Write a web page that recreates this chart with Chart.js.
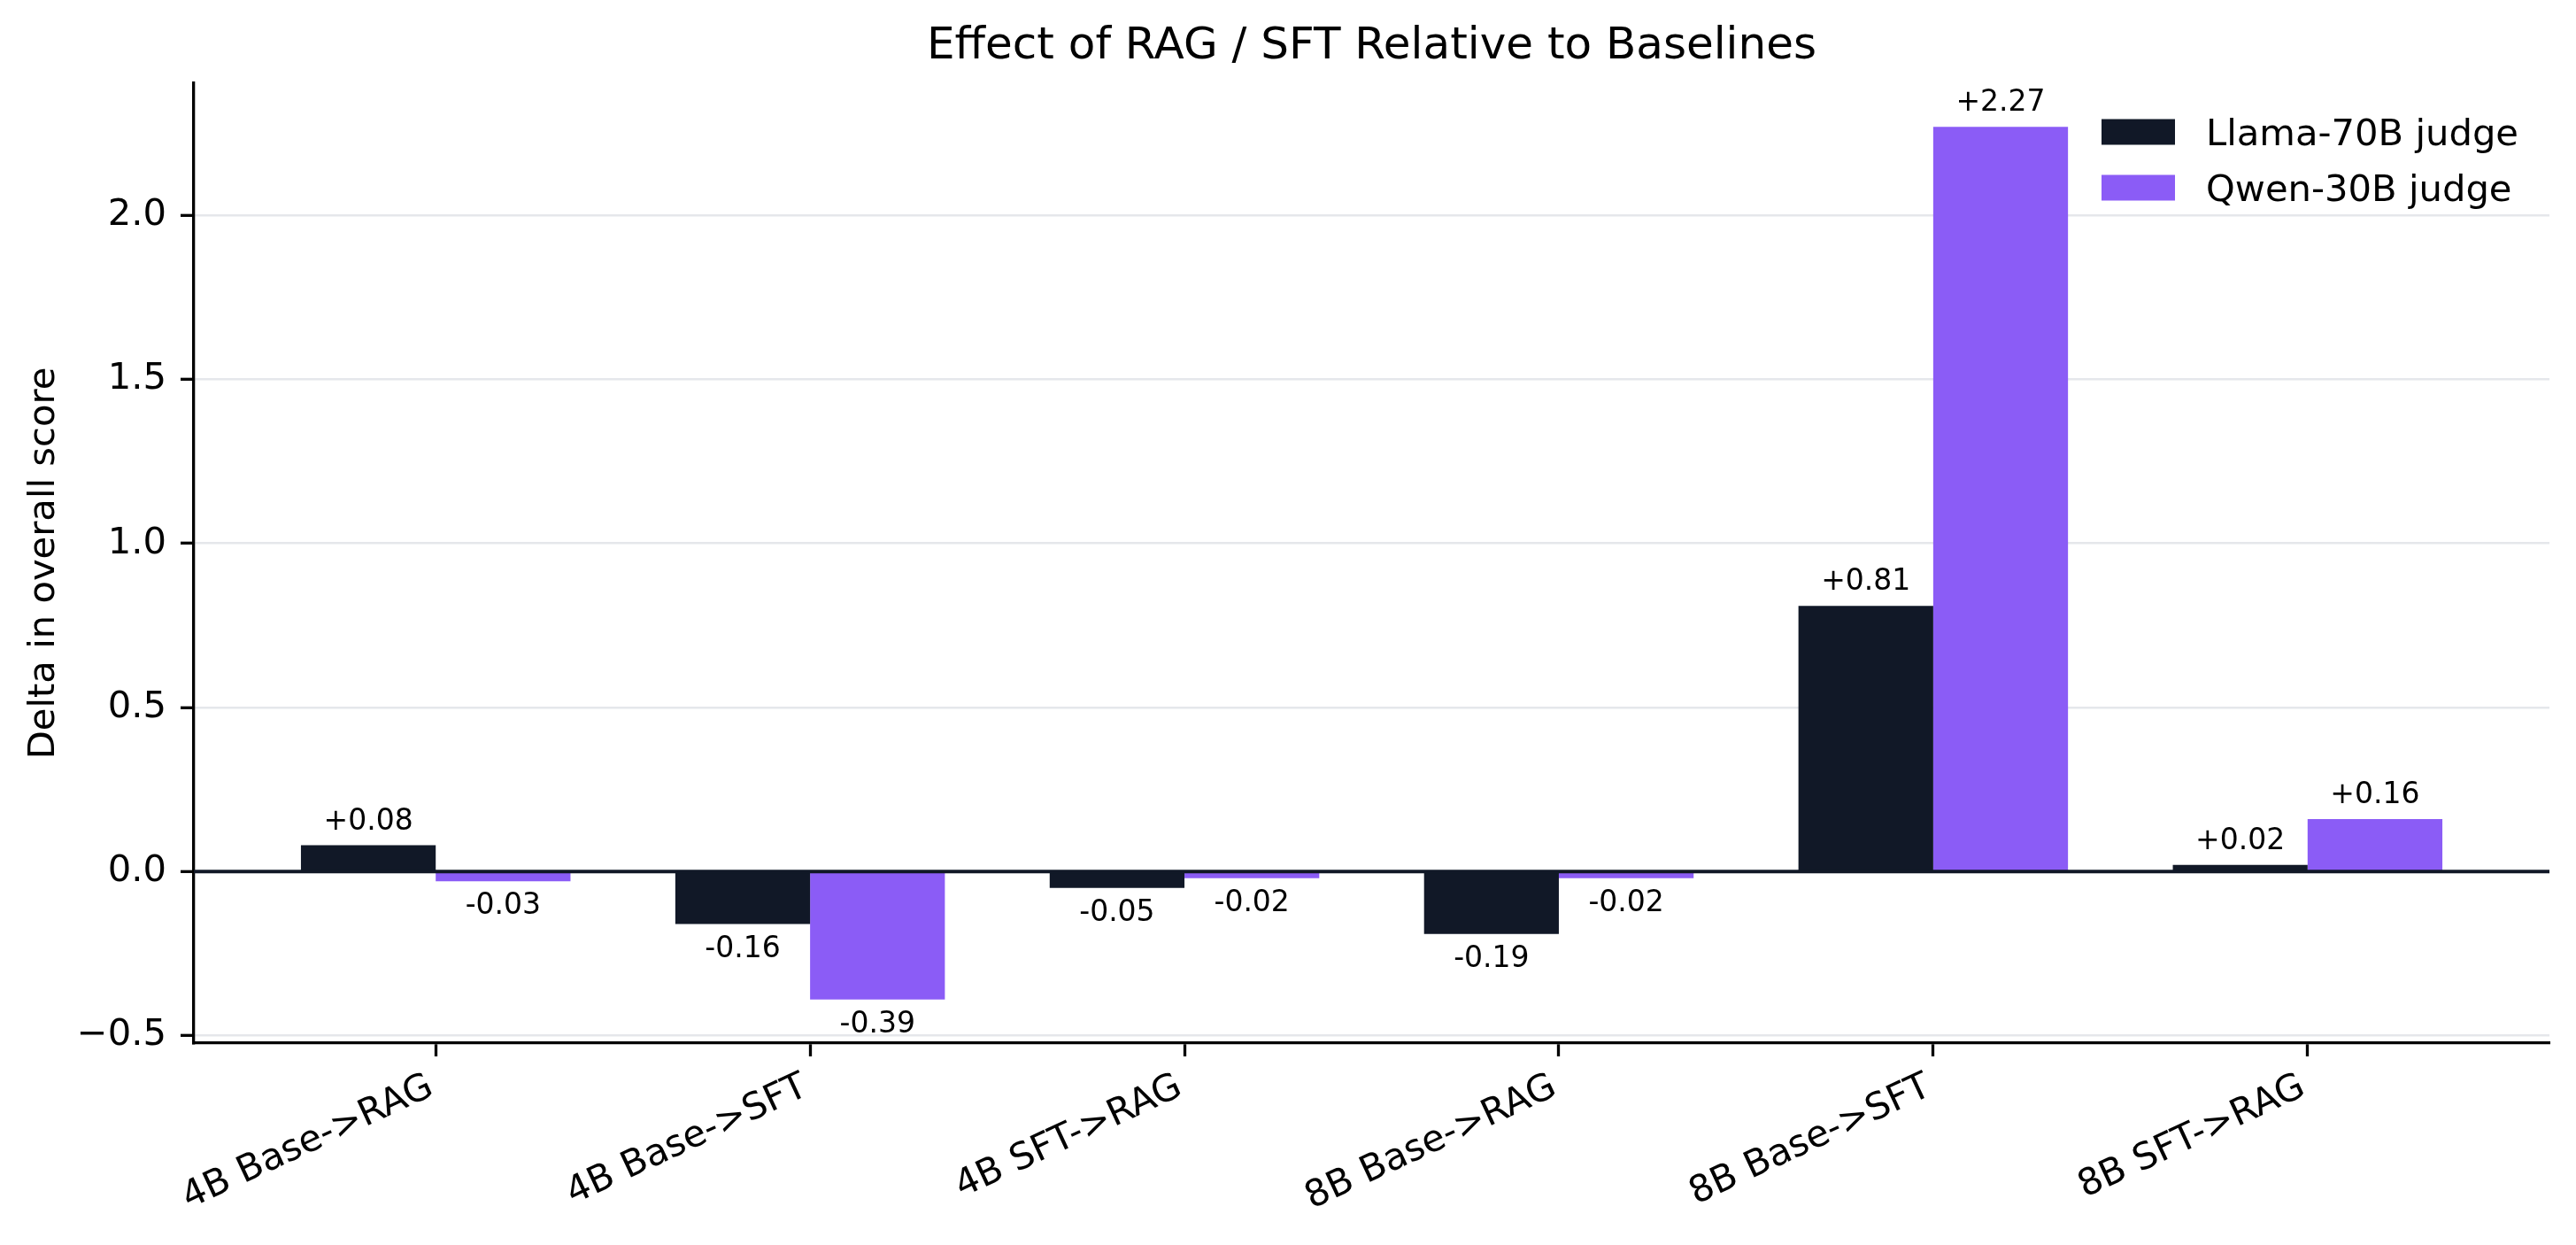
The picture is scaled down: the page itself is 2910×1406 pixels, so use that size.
<!DOCTYPE html>
<html>
<head>
<meta charset="utf-8">
<script src="https://cdn.jsdelivr.net/npm/chart.js@4/dist/chart.umd.min.js"></script>
<style>
  html, body { margin: 0; padding: 0; background: #fff; }
  #wrap { width: 2910px; height: 1406px; }
</style>
</head>
<body>
<div id="wrap"><canvas id="bar-chart" width="2910" height="1406"></canvas></div>
<script>
// values
const categories = ['4B Base->RAG', '4B Base->SFT', '4B SFT->RAG', '8B Base->RAG', '8B Base->SFT', '8B SFT->RAG'];
const llamaDelta = [0.08, -0.16, -0.05, -0.19, 0.81, 0.02];
const qwenDelta = [-0.03, -0.39, -0.02, -0.02, 2.27, 0.16];
const seriesNames = ['Llama-70B judge', 'Qwen-30B judge'];
const yTicks = [-0.5, 0.0, 0.5, 1.0, 1.5, 2.0];

const DARK = '#111827';
const PURPLE = '#8b5cf6';
const FONT = 'DejaVu Sans';

Chart.defaults.font.family = FONT;
Chart.defaults.color = '#000';

// ------------------------------------------------------
// zero line on top of the bars + value labels
// ------------------------------------------------------
const zeroLine = {
  id: 'zeroLine',
  afterDatasetsDraw(chart) {
    const { ctx, chartArea } = chart;
    const y = chart.scales.y.getPixelForValue(0);
    ctx.save();
    ctx.strokeStyle = DARK;
    ctx.lineWidth = 4;
    ctx.beginPath();
    ctx.moveTo(chartArea.left, y);
    ctx.lineTo(chartArea.right, y);
    ctx.stroke();
    ctx.restore();
  }
};

const valueLabels = {
  id: 'valueLabels',
  afterDatasetsDraw(chart) {
    const ctx = chart.ctx;
    ctx.save();
    ctx.font = '33px "' + FONT + '"';
    ctx.fillStyle = '#000';
    ctx.textAlign = 'center';
    ctx.textBaseline = 'alphabetic';
    chart.data.datasets.forEach(function (ds, di) {
      chart.getDatasetMeta(di).data.forEach(function (bar, i) {
        const v = ds.data[i].y;
        const txt = (v >= 0 ? '+' : '') + v.toFixed(2);
        const y = v >= 0 ? bar.y - 18 : bar.y + 37;
        ctx.fillText(txt, bar.x, y);
      });
    });
    ctx.restore();
  }
};

// legend inside the axes, upper right
const insideLegend = {
  id: 'insideLegend',
  afterDraw(chart) {
    const { ctx, chartArea } = chart;
    ctx.save();
    ctx.font = '41.7px "' + FONT + '"';
    ctx.textAlign = 'left';
    ctx.textBaseline = 'alphabetic';
    chart.data.datasets.forEach(function (ds, i) {
      const cy = chartArea.top + 55 + i * 63;
      ctx.fillStyle = ds.backgroundColor;
      ctx.fillRect(chartArea.right - 506, cy - 14.5, 83, 29);
      ctx.fillStyle = '#000';
      ctx.fillText(ds.label, chartArea.right - 388, cy + 15);
    });
    ctx.restore();
  }
};

const barCanvas = document.getElementById('bar-chart');

if (barCanvas) {
  new Chart(barCanvas.getContext('2d'), {
    type: 'bar',
    data: {
      datasets: [{
        label           : seriesNames[0],
        backgroundColor : DARK,
        data            : categories.map((c, i) => ({ x: i, y: llamaDelta[i] })),
      }, {
        label           : seriesNames[1],
        backgroundColor : PURPLE,
        data            : categories.map((c, i) => ({ x: i, y: qwenDelta[i] })),
      }],
    },
    options: {
      responsive: false,
      devicePixelRatio: 1,
      animation: false,
      categoryPercentage: 0.72,
      barPercentage: 1.0,
      layout: { padding: { left: 0, right: 30, top: 0, bottom: 0 } },
      plugins: {
        legend: { display: false },
        tooltip: { enabled: false },
        title: {
          display: true,
          text: 'Effect of RAG / SFT Relative to Baselines',
          fullSize: false,
          color: '#000',
          font: { size: 50, weight: 'normal' },
          padding: { top: 23, bottom: 11 },
        },
      },
      scales: {
        x: {
          type: 'linear',
          offset: false,
          min: -0.646,
          max: 5.646,
          afterBuildTicks: (scale) => { scale.ticks = categories.map((c, i) => ({ value: i })); },
          afterFit: (scale) => { scale.height = 228; },
          ticks: {
            autoSkip: false,
            minRotation: 25,
            maxRotation: 25,
            padding: 10,
            labelOffset: -5,
            font: { size: 41.7 },
            callback: (v) => categories[v],
          },
          grid: {
            offset: false,
            drawOnChartArea: false,
            color: 'rgba(0,0,0,0)',
            tickColor: '#000',
            tickLength: 15,
            tickWidth: 3.3,
          },
          border: { display: true, color: '#000', width: 3.3 },
        },
        y: {
          min: -0.523,
          max: 2.403,
          afterBuildTicks: (scale) => { scale.ticks = yTicks.map(v => ({ value: v })); },
          afterFit: (scale) => { scale.width = 219; },
          ticks: {
            padding: 16,
            font: { size: 41.7 },
            callback: (v) => (v < 0 ? '\u2212' : '') + Math.abs(v).toFixed(1),
          },
          grid: {
            color: (c) => (c.tick && c.tick.value === 0 ? 'rgba(0,0,0,0)' : '#e5e7eb'),
            lineWidth: 2.6,
            tickColor: '#000',
            tickLength: 15,
            tickWidth: 3.3,
          },
          border: { display: true, color: '#000', width: 3.3 },
          title: {
            display: true,
            text: 'Delta in overall score',
            font: { size: 41.7 },
            padding: { top: 25, bottom: 0 },
          },
        },
      },
    },
    plugins: [zeroLine, valueLabels, insideLegend],
  });
}
</script>
</body>
</html>
